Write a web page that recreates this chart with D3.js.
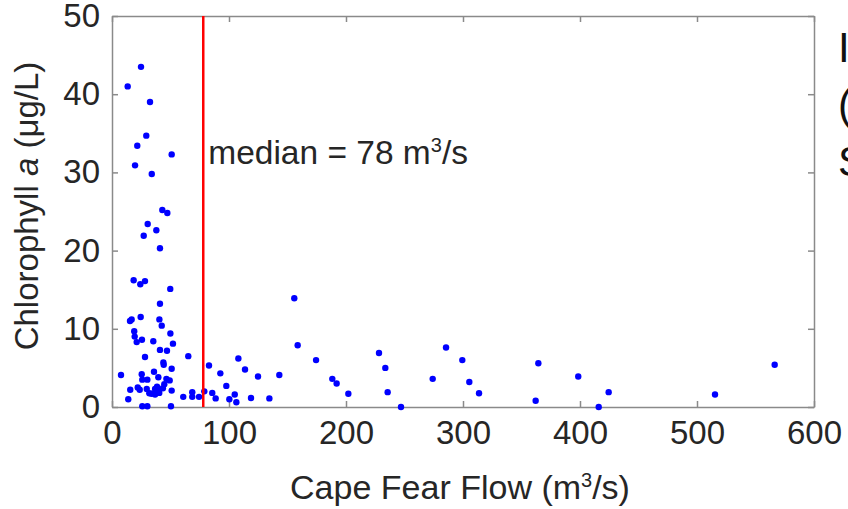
<!DOCTYPE html>
<html>
<head>
<meta charset="utf-8">
<script src="https://cdn.jsdelivr.net/npm/d3@7"></script>
<style>
  body { margin: 0; background: #fff; }
  svg { display: block; font-family: "Liberation Sans", Arial, sans-serif; }
</style>
</head>
<body>
<script>
// flow (m3/s) and chlorophyll a (ug/L)
var flow = [24.8, 13.4, 32.5, 29.3, 21.6, 51.0, 19.7, 34.0,
    43.0, 47.3, 30.5, 37.9, 27.1, 41.0,
    18.5, 24.2, 28.2, 49.8,
    41.0, 16.8, 15.4, 24.5, 40.5, 42.5,
    19.0, 49.9, 19.4, 21.1, 25.6, 35.3, 52.1,
    41.0, 47.0, 28.2, 65.2, 43.9, 44.2, 51.0,
    7.7, 25.4, 35.9, 25.9, 30.2, 39.6, 49.3, 44.7,
    15.6, 22.0, 23.7, 29.7, 36.8, 39.6, 33.9, 36.8, 40.4, 51.0, 31.9,
    38.5, 43.5, 46.5,
    13.9, 60.9, 68.6, 68.6, 74.4, 78.9,
    25.9, 30.2, 50.4,
    82.9, 85.7, 88.6, 92.6, 97.7, 100.3, 104.9, 106.3, 108.0, 113.7, 118.8, 124.8, 134.5, 143.0,
    155.8, 158.7, 174.4, 188.3, 192.0, 202.0,
    228.2, 233.6, 235.6, 247.0, 274.1, 285.5, 299.4, 305.4, 313.7,
    362.1, 364.4, 398.5, 424.5, 416.0, 515.4, 566.4];
var chla = [43.5, 41.0, 39.0, 34.7, 33.4, 32.3, 30.9, 29.8,
    25.2, 24.8, 23.4, 22.6, 21.9, 20.3,
    16.2, 15.7, 16.1, 15.1,
    13.2, 11.2, 11.0, 11.5, 11.2, 10.4,
    9.7, 9.4, 9.0, 8.3, 8.6, 8.4, 8.1,
    7.3, 7.2, 6.4, 6.5, 5.7, 5.4, 4.9,
    4.1, 4.2, 4.5, 3.5, 3.5, 3.8, 3.4, 2.9,
    2.2, 2.5, 2.2, 2.3, 2.3, 2.2, 1.7, 1.6, 1.8, 2.1, 1.75,
    2.6, 2.4, 3.6,
    1.0, 1.3, 1.9, 1.3, 1.3, 2.0,
    0.1, 0.1, 0.1,
    5.3, 1.8, 1.1, 4.3, 2.7, 1.0, 1.6, 0.6, 6.2, 4.8, 1.15, 3.9, 1.1, 4.1,
    13.9, 7.9, 6.0, 3.6, 3.0, 1.7,
    6.9, 5.0, 1.9, 0.0, 3.6, 7.6, 6.0, 3.2, 1.75,
    0.8, 5.6, 3.9, 1.9, 0.0, 1.6, 5.4];
var medianFlow = 78;
var xTicks = [0, 100, 200, 300, 400, 500, 600];
var yTicks = [0, 10, 20, 30, 40, 50];
var sideText = ["I", "(", "S"];

var width = 848, height = 509;
var plotLeft = 112, plotRight = 814, plotTop = 16, plotBottom = 407;

var svg = d3.select("body").append("svg")
    .attr("width", width)
    .attr("height", height);

var x = d3.scaleLinear().domain([0, 600]).range([plotLeft, plotRight]);
var y = d3.scaleLinear().domain([0, 50]).range([plotBottom, plotTop]);

var axisColor = "#8a8a8a", textColor = "#262626";

function styleAxis(g) {
    g.selectAll(".domain").attr("stroke", axisColor).attr("stroke-width", 1.5);
    g.selectAll(".tick line").attr("stroke", axisColor).attr("stroke-width", 1.5);
    g.selectAll(".tick text").attr("fill", textColor).style("font-size", "33px");
}

svg.append("g")
    .attr("transform", "translate(0," + plotBottom + ")")
    .call(d3.axisBottom(x).tickValues(xTicks).tickSizeInner(-6).tickSizeOuter(0).tickPadding(14))
    .call(styleAxis);

svg.append("g")
    .attr("transform", "translate(0," + plotTop + ")")
    .call(d3.axisTop(x).tickValues(xTicks).tickSizeInner(-6).tickSizeOuter(0).tickFormat(""))
    .call(styleAxis);

svg.append("g")
    .attr("transform", "translate(" + plotLeft + ",0)")
    .call(d3.axisLeft(y).tickValues(yTicks).tickSizeInner(-6).tickSizeOuter(0).tickPadding(12))
    .call(styleAxis);

svg.append("g")
    .attr("transform", "translate(" + plotRight + ",0)")
    .call(d3.axisRight(y).tickValues(yTicks).tickSizeInner(-6).tickSizeOuter(0).tickFormat(""))
    .call(styleAxis);

// points
svg.append("g")
    .selectAll("circle")
    .data(flow)
    .enter().append("circle")
    .attr("cx", function (d) { return x(d); })
    .attr("cy", function (d, i) { return y(chla[i]); })
    .attr("r", 3.2)
    .attr("fill", "#0000ff");

// median line
svg.append("line")
    .attr("x1", x(medianFlow)).attr("x2", x(medianFlow))
    .attr("y1", y(50)).attr("y2", y(0))
    .attr("stroke", "#ff0000")
    .attr("stroke-width", 2.5);

var med = svg.append("text")
    .attr("x", x(medianFlow) + 5)
    .attr("y", 164)
    .attr("fill", textColor)
    .style("font-size", "33.5px");
med.append("tspan").text("median = " + medianFlow + " m");
med.append("tspan").attr("dy", -12).style("font-size", "20px").text("3");
med.append("tspan").attr("dy", 12).text("/s");

// axis titles
var xt = svg.append("text")
    .attr("x", 460)
    .attr("y", 499)
    .attr("text-anchor", "middle")
    .attr("fill", textColor)
    .style("font-size", "34px");
xt.append("tspan").text("Cape Fear Flow (m");
xt.append("tspan").attr("dy", -12).style("font-size", "20px").text("3");
xt.append("tspan").attr("dy", 12).text("/s)");

var yt = svg.append("text")
    .attr("transform", "translate(38,206) rotate(-90)")
    .attr("text-anchor", "middle")
    .attr("fill", textColor)
    .style("font-size", "33px");
yt.append("tspan").text("Chlorophyll ");
yt.append("tspan").style("font-style", "italic").text("a");
yt.append("tspan").text(" (\u03bcg/L)");

// cut-off text from the neighbouring panel
svg.append("g")
    .selectAll("text")
    .data(sideText)
    .enter().append("text")
    .attr("x", 838)
    .attr("y", function (d, i) { return 62 + i * 57; })
    .attr("fill", "#111")
    .style("font-size", "42px")
    .text(function (d) { return d; });
</script>
</body>
</html>
